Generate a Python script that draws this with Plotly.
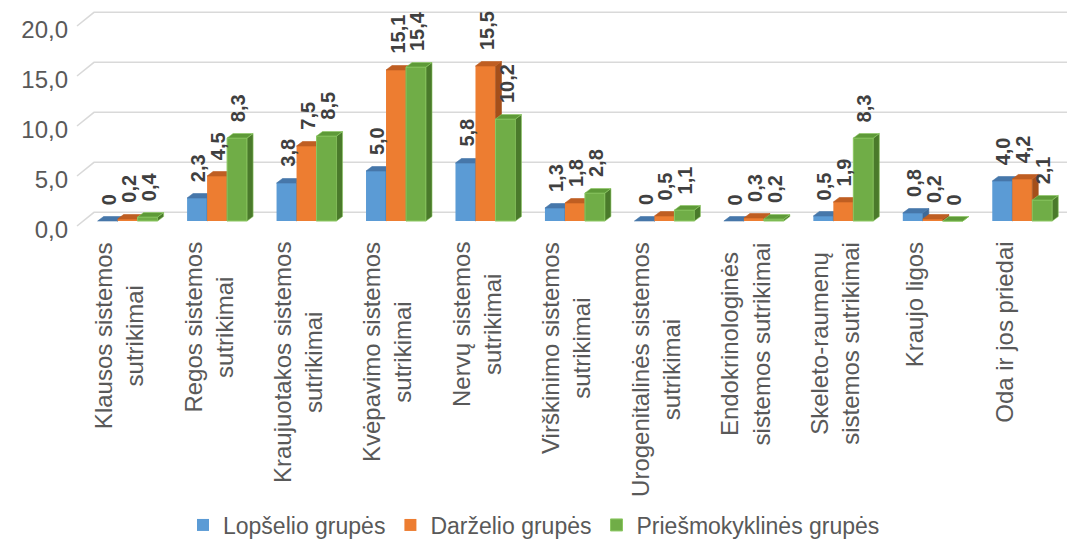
import plotly.graph_objects as go
import numpy as np

# ---------------- data ----------------
categories = [
    "Klausos sistemos<br>sutrikimai",
    "Regos sistemos<br>sutrikimai",
    "Kraujuotakos sistemos<br>sutrikimai",
    "Kvėpavimo sistemos<br>sutrikimai",
    "Nervų sistemos<br>sutrikimai",
    "Virškinimo sistemos<br>sutrikimai",
    "Urogenitalinės sistemos<br>sutrikimai",
    "Endokrinologinės<br>sistemos sutrikimai",
    "Skeleto-raumenų<br>sistemos sutrikimai",
    "Kraujo ligos",
    "Oda ir jos priedai",
]
lopselio = [0, 2.3, 3.8, 5.0, 5.8, 1.3, 0, 0, 0.5, 0.8, 4.0]
darzelio = [0.2, 4.5, 7.5, 15.1, 15.5, 1.8, 0.5, 0.3, 1.9, 0.2, 4.2]
priesmok = [0.4, 8.3, 8.5, 15.4, 10.2, 2.8, 1.1, 0.2, 8.3, 0, 2.1]
series_names = ["Lopšelio grupės", "Darželio grupės", "Priešmokyklinės grupės"]
y_tick_values = [0, 5, 10, 15, 20]
y_tick_labels = ["0,0", "5,0", "10,0", "15,0", "20,0"]

# ---------------- style ----------------
FONT = "Liberation Sans, Arial, sans-serif"
TXT = "#595959"
front_cols = ["#5B9BD5", "#ED7D31", "#70AD47"]
top_cols = ["#4677AA", "#BF5E22", "#5E9A38"]
side_cols = ["#3E6A99", "#A44F1A", "#4A7A2B"]
edge_cols = [None, None, "#8CC862"]

X_RANGE = [-0.7, 10.5]
Y_RANGE = [-1.5, 21.2]
ML, MR, MT, MB = 65, 1, 9, 303
px_per_x = (1068 - ML - MR) / (X_RANGE[1] - X_RANGE[0])
W = 20 / px_per_x          # bar front width (data units)
DDX = 6 / px_per_x          # depth in x
DDY = 0.45                  # depth in y

series = [lopselio, darzelio, priesmok]
idx = np.arange(len(categories))

fig = go.Figure()
axis_suffix = ["", "2", "3"]


def fmt(v):
    return "0" if v == 0 else f"{v:.1f}".replace(".", ",")


annotations = []
for k, vals in enumerate(series):
    xa = "x" + axis_suffix[k]
    ya = "y" + axis_suffix[k]
    centers = idx + (k - 1) * W
    line = dict(width=1, color=edge_cols[k]) if edge_cols[k] else dict(width=0)
    fig.add_trace(go.Bar(
        x=centers, y=vals, width=W, name=series_names[k],
        marker=dict(color=front_cols[k], line=line),
        xaxis=xa, yaxis=ya, hoverinfo="skip",
    ))
    # top and side faces computed from values
    tx, ty, sx, sy = [], [], [], []
    for c, v in zip(centers, vals):
        x0, x1 = c - W / 2, c + W / 2
        tx += [x0, x0 + DDX, x1 + DDX, x1, x0, None]
        ty += [v, v + DDY, v + DDY, v, v, None]
        sx += [x1, x1 + DDX, x1 + DDX, x1, x1, None]
        sy += [0, DDY, v + DDY, v, 0, None]
    for px, py, col in [(sx, sy, side_cols[k]), (tx, ty, top_cols[k])]:
        fig.add_trace(go.Scatter(
            x=px, y=py, mode="lines", fill="toself", fillcolor=col,
            line=dict(width=0.6, color=edge_cols[k] or col),
            xaxis=xa, yaxis=ya, showlegend=False, hoverinfo="skip",
        ))
    for c, v in zip(centers, vals):
        annotations.append(dict(
            x=c + 0.012, y=v, xref="x", yref="y", text=fmt(v),
            textangle=-90, xanchor="center", yanchor="bottom", yshift=14,
            showarrow=False, font=dict(family=FONT, size=20, color="#404040", weight="bold"),
        ))

# category labels
for i, lab in enumerate(categories):
    annotations.append(dict(
        x=i, y=0, xref="x", yref="paper", text=lab, textangle=-90,
        xanchor="center", yanchor="top", yshift=-4,
        xshift=-9 if "<br>" in lab else -18, align="center",
        showarrow=False, font=dict(family=FONT, size=24, color=TXT),
    ))

# back-wall gridlines with left perspective diagonal
shapes = []
xf = X_RANGE[0] + (77 - ML) / px_per_x
xb = X_RANGE[0] + (94 - ML) / px_per_x
for v in y_tick_values:
    yf = v - 0.5
    yb = v + 0.87
    shapes.append(dict(
        type="path", xref="x", yref="y", layer="below",
        path=f"M {xf},{yf} L {xb},{yb} L {X_RANGE[1]},{yb}",
        line=dict(color="#D9D9D9", width=1.6),
    ))

hidden_x = dict(range=X_RANGE, visible=False, overlaying="x", fixedrange=True)
hidden_y = dict(range=Y_RANGE, visible=False, overlaying="y", fixedrange=True)

fig.update_layout(
    width=1068, height=539,
    margin=dict(l=ML, r=MR, t=MT, b=MB, autoexpand=False),
    paper_bgcolor="white", plot_bgcolor="white",
    font=dict(family=FONT, color=TXT),
    showlegend=True,
    barmode="overlay",
    xaxis=dict(range=X_RANGE, visible=False, fixedrange=True),
    yaxis=dict(range=Y_RANGE, tickvals=y_tick_values, ticktext=y_tick_labels,
               showgrid=False, zeroline=False, showline=False, ticks="",
               ticklabelshift=9, ticklabelstandoff=-4,
               tickfont=dict(family=FONT, size=24, color=TXT), fixedrange=True),
    xaxis2=hidden_x, xaxis3=hidden_x,
    yaxis2=hidden_y, yaxis3=hidden_y,
    legend=dict(orientation="h", xref="container", yref="container",
                x=0.5, y=1 - 525 / 539, xanchor="center", yanchor="middle",
                font=dict(family=FONT, size=23, color=TXT), traceorder="normal"),
    annotations=annotations,
    shapes=shapes,
)

fig.write_html("out.html", config={"displayModeBar": False},
               post_script="document.body.style.margin='0';document.body.style.overflow='hidden';")
